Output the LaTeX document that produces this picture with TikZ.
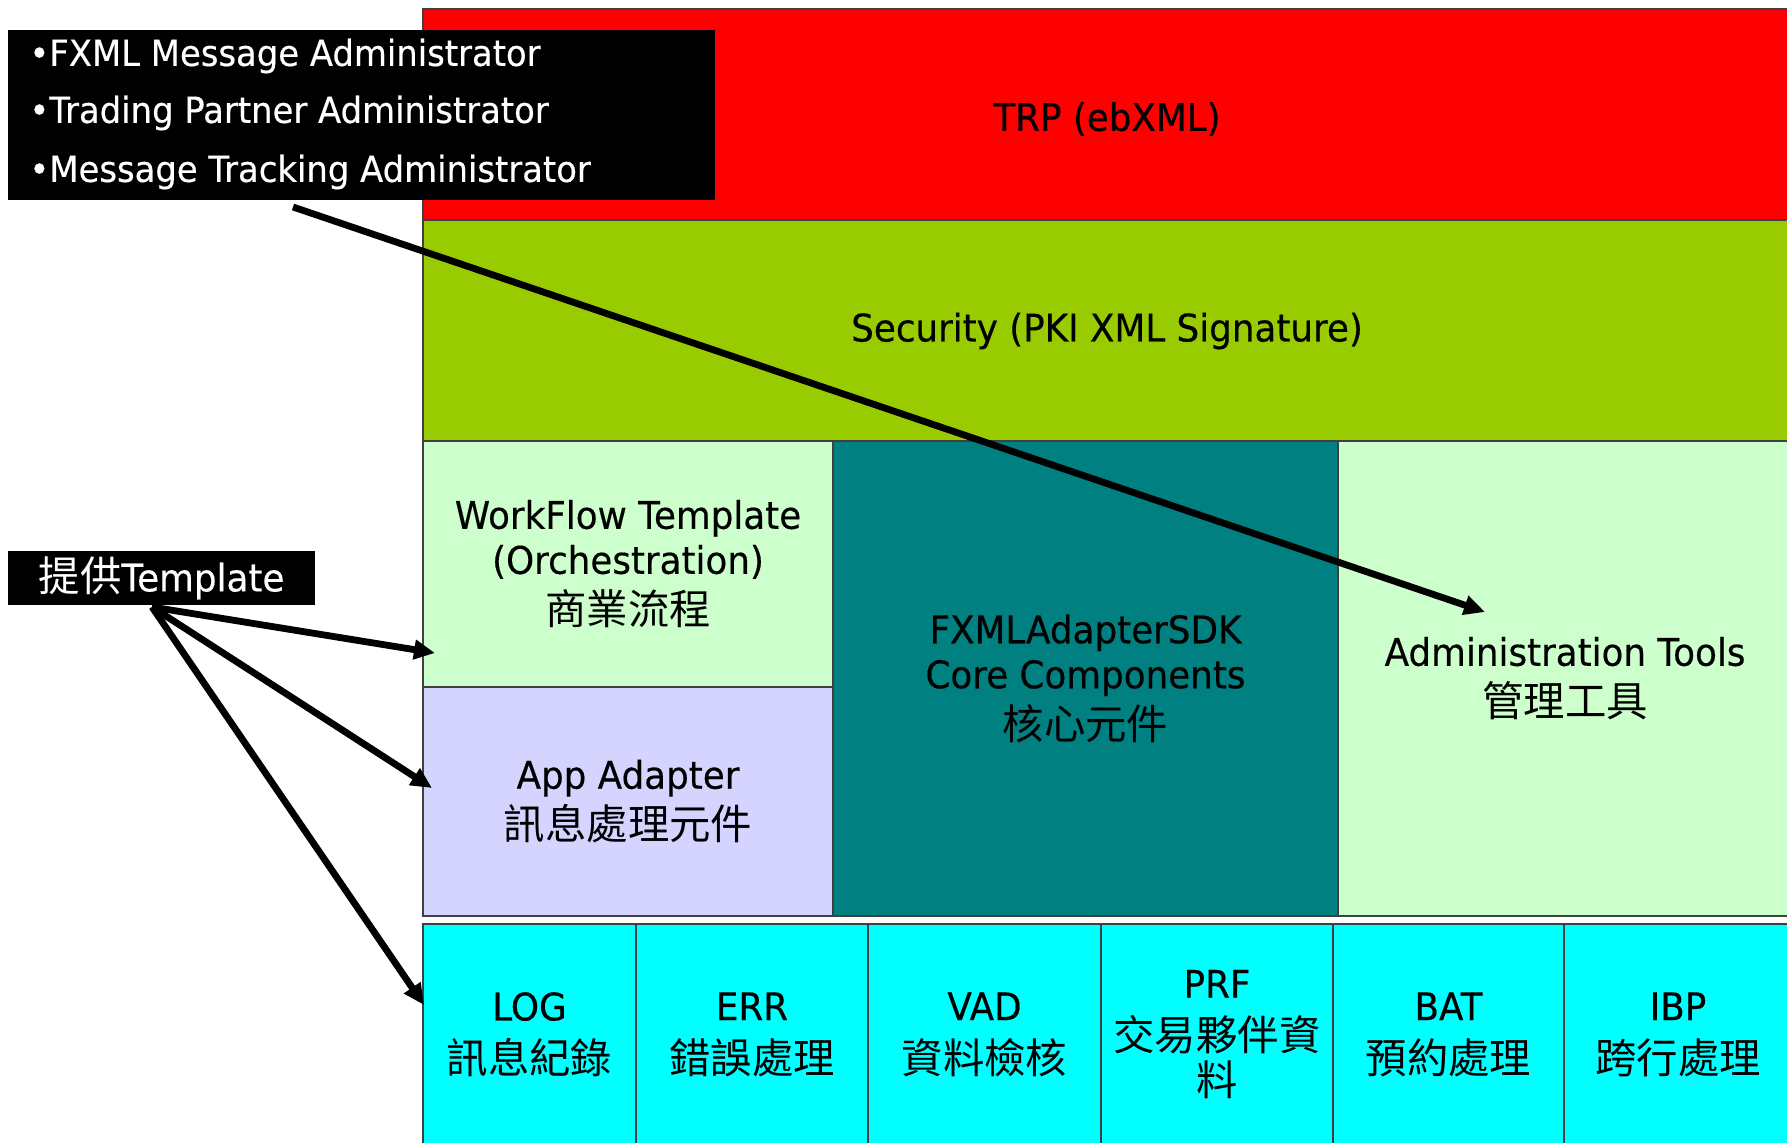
\documentclass[tikz,border=0pt]{standalone}
\usepackage{fontspec}
\setmainfont{DejaVu Sans}[FakeStretch=0.94, FakeBold=0.4]
\newfontfamily\cjk{Noto Sans CJK TC}
\usetikzlibrary{arrows.meta,fit}

\definecolor{trpred}{HTML}{FF0000}
\definecolor{secgreen}{HTML}{99CC00}
\definecolor{mint}{HTML}{CCFFCC}
\definecolor{lavender}{HTML}{D4D4FF}
\definecolor{coreteal}{HTML}{008080}
\definecolor{aqua}{HTML}{00FFFF}

% Chinese text, a little larger than the Latin labels
\newcommand\zh[1]{{\cjk\fontsize{20.7}{22}\selectfont #1}}

\tikzset{
  layer/.style={draw=black!75, line width=0.7pt, inner sep=0pt},
  label text/.style={inner sep=0pt, align=center,
    font=\fontsize{19}{22.5}\selectfont},
  blackbox/.style={fill=black, inner sep=0pt},
  listline/.style={anchor=west, inner sep=0pt, text=white,
    font=\fontsize{18}{22}\selectfont},
  arr/.style={line width=3.4pt, -{Triangle[length=10.5pt,width=9.5pt]}},
}

\begin{document}
\begin{tikzpicture}[x=0.5pt, y=-0.5pt]
\useasboundingbox (0,0) rectangle (1787,1143);

% protocol and security layers
\node[layer, fill=trpred, fit={(423,9) (1792,220)}] (trp) {};
\node[layer, fill=secgreen, fit={(423,220) (1792,441)}] (sec) {};

% middle row
\node[layer, fill=mint, fit={(423,441) (833,687)}] (wf) {};
\node[layer, fill=lavender, fit={(423,687) (833,916)}] (app) {};
\node[layer, fill=coreteal, fit={(833,441) (1338,916)}] (core) {};
\node[layer, fill=mint, fit={(1338,441) (1792,916)}] (adm) {};

% common services row
\node[layer, fill=aqua, fit={(423,924) (636,1145)}] (log) {};
\node[layer, fill=aqua, fit={(636,924) (868,1145)}] (err) {};
\node[layer, fill=aqua, fit={(868,924) (1101,1145)}] (vad) {};
\node[layer, fill=aqua, fit={(1101,924) (1333,1145)}] (prf) {};
\node[layer, fill=aqua, fit={(1333,924) (1564,1145)}] (bat) {};
\node[layer, fill=aqua, fit={(1564,924) (1792,1145)}] (ibp) {};

% labels of the layers
\node[label text] (trpT) at (1107,119) {TRP (ebXML)};
\node[label text] (secT) at (1107,331) {Security (PKI XML Signature)};
\node[label text] (wfT) at (wf.center) {WorkFlow Template\\(Orchestration)\\[3pt]\zh{商業流程}};
\node[label text] (appT) at (app.center) {App Adapter\\[3pt]\zh{訊息處理元件}};
\node[label text] (coreT) at (core.center) {FXMLAdapterSDK\\Core Components\\[3pt]\zh{核心元件}};
\node[label text] (admT) at (adm.center) {Administration Tools\\[3pt]\zh{管理工具}};
\node[label text] (logT) at (log.center) {LOG\\[4pt]\zh{訊息紀錄}};
\node[label text] (errT) at (err.center) {ERR\\[4pt]\zh{錯誤處理}};
\node[label text] (vadT) at (vad.center) {VAD\\[4pt]\zh{資料檢核}};
\node[label text] (prfT) at (prf.center) {PRF\\[4pt]\zh{交易夥伴資}\\\zh{料}};
\node[label text] (batT) at (bat.center) {BAT\\[4pt]\zh{預約處理}};
\node[label text] (ibpT) at (ibp.center) {IBP\\[4pt]\zh{跨行處理}};

% administrator list
\node[blackbox, fit={(8,30) (715,200)}] (admlist) {};
\node[listline] (l1) at (29,56) {•FXML Message Administrator};
\node[listline] (l2) at (29,113) {•Trading Partner Administrator};
\node[listline] (l3) at (29,172) {•Message Tracking Administrator};

% template callout
\node[blackbox, fit={(8,551) (315,605)}] (tpl) {};
\node[label text, text=white] (tplT) at (tpl.center) {\zh{提供}Template};

% connectors
\coordinate (admstart) at (293,207);
\coordinate (admend) at (1485,612);
\draw[arr] (admstart) -- (admend);

\coordinate (tplstart) at (152,607);
\coordinate (wfend) at (435,653);
\coordinate (append) at (432,788);
\coordinate (logend) at (424,1005);
\draw[arr] (tplstart) -- (wfend);
\draw[arr] (tplstart) -- (append);
\draw[arr] (tplstart) -- (logend);
\end{tikzpicture}
\end{document}
